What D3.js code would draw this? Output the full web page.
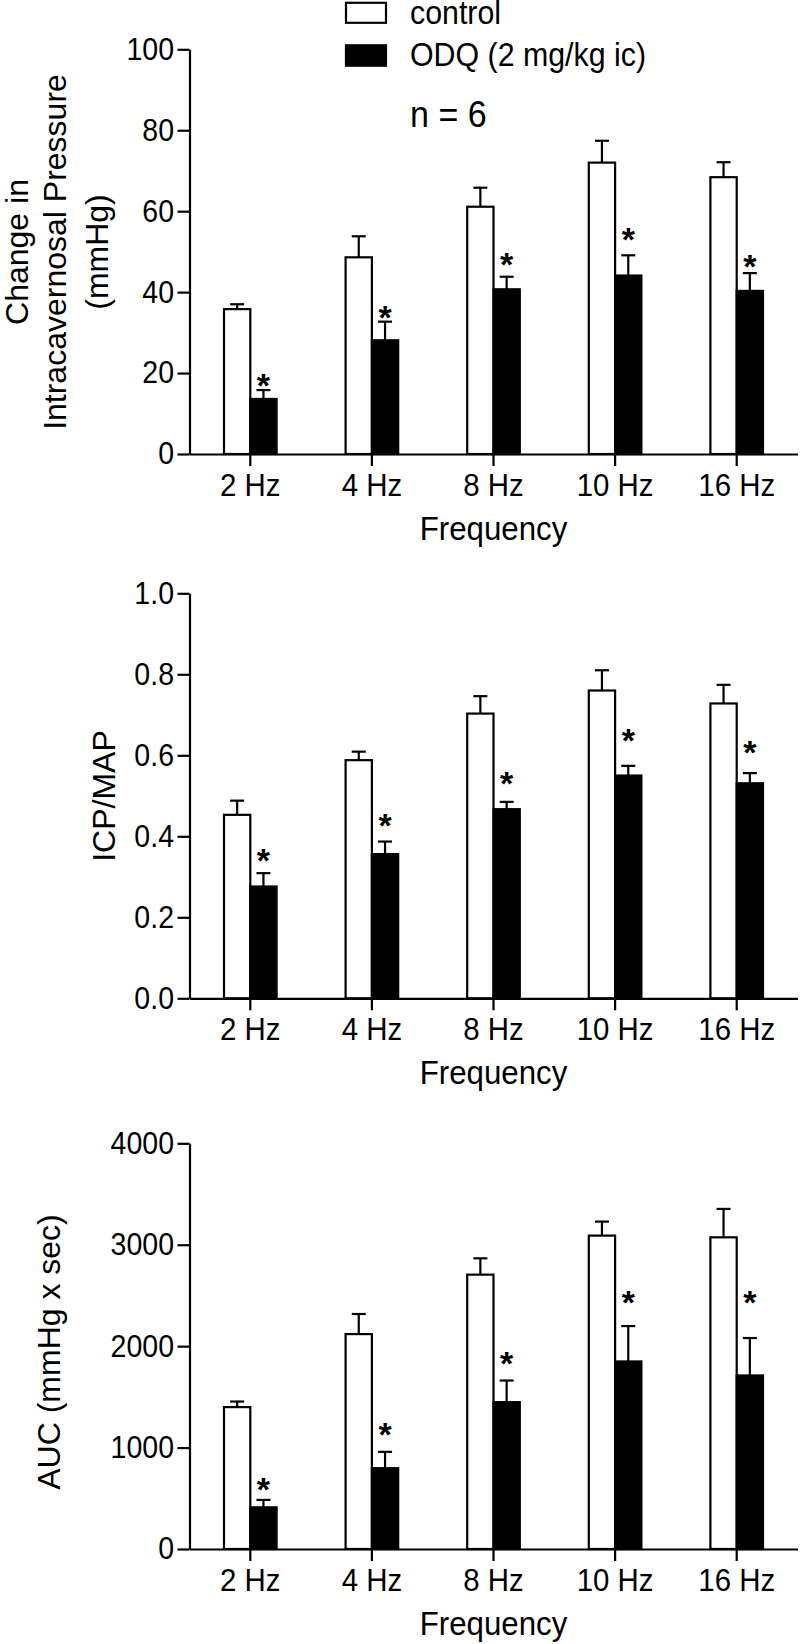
<!DOCTYPE html>
<html>
<head>
<meta charset="utf-8">
<script src="https://cdn.jsdelivr.net/npm/d3@7/dist/d3.min.js"></script>
<style>
  html, body { margin: 0; padding: 0; background: #fff; }
  svg { display: block; }
  text { font-family: Arial, "Liberation Sans", Helvetica, sans-serif; fill: #000; }
</style>
</head>
<body>
<svg id="chart" width="800" height="1644"></svg>
<script>
// ---------- data ----------
const categories = ["2 Hz", "4 Hz", "8 Hz", "10 Hz", "16 Hz"];
const seriesNames = ["control", "ODQ (2 mg/kg ic)"];
const sampleNote = "n = 6";

// Panel 1: change in intracavernosal pressure (mmHg)
const icpControl    = [35.8, 48.6, 61.1, 72.0, 68.4];
const icpControlSem = [1.2, 5.2, 4.7, 5.4, 3.7];
const icpOdq        = [13.6, 28.1, 40.7, 44.1, 40.3];
const icpOdqSem     = [2.2, 4.6, 3.1, 5.0, 4.4];
const icpStars      = [18.8, 35.6, 48.7, 54.9, 48.3];
const icpTicks      = [0, 20, 40, 60, 80, 100];

// Panel 2: ICP/MAP
const ratioControl    = [0.453, 0.588, 0.703, 0.760, 0.728];
const ratioControlSem = [0.035, 0.021, 0.043, 0.050, 0.046];
const ratioOdq        = [0.276, 0.356, 0.467, 0.550, 0.531];
const ratioOdqSem     = [0.033, 0.031, 0.018, 0.024, 0.025];
const ratioStars      = [0.3595, 0.445, 0.55, 0.655, 0.625];
const ratioTicks      = [0, 0.2, 0.4, 0.6, 0.8, 1.0];

// Panel 3: AUC (mmHg x sec)
const aucControl    = [1399, 2119, 2705, 3090, 3073];
const aucControlSem = [55, 198, 161, 138, 280];
const aucOdq        = [411, 797, 1448, 1849, 1711];
const aucOdqSem     = [73, 161, 213, 349, 369];
const aucStars      = [664, 1207, 1905, 2507, 2507];
const aucTicks      = [0, 1000, 2000, 3000, 4000];

// ---------- layout ----------
const FONT = 'Arial, "Liberation Sans", Helvetica, sans-serif';
const SX = 0.92; // horizontal squeeze of the original lettering
const svg = d3.select("#chart");
const xLeft = 189.5, xRight = 797.5;
const barW = 26.3;

const panels = [
  { control: icpControl, controlSem: icpControlSem, odq: icpOdq, odqSem: icpOdqSem, stars: icpStars,
    ticks: icpTicks, fmt: d3.format("d"), domain: [0, 100], y0: 454, y1: 49.3,
    title: ["Change in", "Intracavernosal Pressure", "(mmHg)"], titleX: [28, 66, 108], titleY: 252 },
  { control: ratioControl, controlSem: ratioControlSem, odq: ratioOdq, odqSem: ratioOdqSem, stars: ratioStars,
    ticks: ratioTicks, fmt: d3.format(".1f"), domain: [0, 1], y0: 998.3, y1: 593.3,
    title: ["ICP/MAP"], titleX: [115], titleY: 796 },
  { control: aucControl, controlSem: aucControlSem, odq: aucOdq, odqSem: aucOdqSem, stars: aucStars,
    ticks: aucTicks, fmt: d3.format("d"), domain: [0, 4000], y0: 1549, y1: 1143.3,
    title: ["AUC (mmHg x sec)"], titleX: [60], titleY: 1352 }
];

const x = d3.scaleBand().domain(categories).range([xLeft, xRight]).padding(0);
const cx = c => x(c) + x.bandwidth() / 2;

function squeeze(sel) {
  sel.each(function () {
    const t = d3.select(this);
    const tx = +t.attr("x") || 0;
    t.attr("x", 0).attr("transform", `translate(${tx},0) scale(${SX},1)`);
  });
}

panels.forEach(p => {
  const y = d3.scaleLinear().domain(p.domain).range([p.y0, p.y1]);
  const g = svg.append("g");

  const rows = categories.map((c, i) => ({
    c, ctl: p.control[i], ctlSem: p.controlSem[i], odq: p.odq[i], odqSem: p.odqSem[i], star: p.stars[i]
  }));

  // error bars (upward only)
  const cap = 7;
  rows.forEach(r => {
    const xc = cx(r.c) - barW / 2, xo = cx(r.c) + barW / 2;
    [[xc, r.ctl, r.ctlSem], [xo, r.odq, r.odqSem]].forEach(([xx, v, s]) => {
      g.append("line").attr("x1", xx).attr("x2", xx).attr("y1", y(v)).attr("y2", y(v + s))
        .attr("stroke", "#000").attr("stroke-width", 2.2);
      g.append("line").attr("x1", xx - cap).attr("x2", xx + cap).attr("y1", y(v + s)).attr("y2", y(v + s))
        .attr("stroke", "#000").attr("stroke-width", 2.2);
    });
  });

  // bars
  g.selectAll("rect.ctl").data(rows).join("rect").attr("class", "ctl")
    .attr("x", d => cx(d.c) - barW).attr("width", barW)
    .attr("y", d => y(d.ctl)).attr("height", d => y(0) - y(d.ctl))
    .attr("fill", "#fff").attr("stroke", "#000").attr("stroke-width", 2.2);
  g.selectAll("rect.odq").data(rows).join("rect").attr("class", "odq")
    .attr("x", d => cx(d.c)).attr("width", barW)
    .attr("y", d => y(d.odq)).attr("height", d => y(0) - y(d.odq))
    .attr("fill", "#000").attr("stroke", "#000").attr("stroke-width", 2.2);

  // significance stars
  g.selectAll("text.star").data(rows).join("text").attr("class", "star")
    .attr("x", d => cx(d.c) + barW / 2).attr("y", d => y(d.star) + 19)
    .attr("text-anchor", "middle").style("font-size", "34px").style("font-weight", "bold")
    .text("*");

  // y axis
  const ya = g.append("g").attr("transform", `translate(${xLeft},0)`)
    .call(d3.axisLeft(y).tickValues(p.ticks).tickFormat(p.fmt).tickSizeInner(12).tickSizeOuter(0).tickPadding(3.5));
  ya.selectAll("path, line").attr("stroke", "#000").attr("stroke-width", 2.2);
  ya.selectAll("text").style("font-family", FONT).style("font-size", "31px").attr("fill", "#000").call(squeeze);

  // x axis
  const xa = g.append("g").attr("transform", `translate(0,${p.y0})`)
    .call(d3.axisBottom(x).tickSizeInner(12).tickSizeOuter(0).tickPadding(7));
  xa.selectAll("path, line").attr("stroke", "#000").attr("stroke-width", 2.2);
  xa.selectAll("text").style("font-family", FONT).style("font-size", "32px").attr("fill", "#000").call(squeeze);

  // x title
  g.append("text").attr("transform", `translate(${(xLeft + xRight) / 2},${p.y0 + 86}) scale(${SX},1)`)
    .attr("text-anchor", "middle").style("font-size", "34px").text("Frequency");

  // y title
  p.title.forEach((t, i) => {
    g.append("text").attr("transform", `translate(${p.titleX[i]},${p.titleY}) rotate(-90)`)
      .attr("text-anchor", "middle").style("font-size", "32px").text(t);
  });
});

// legend
const legend = svg.append("g");
legend.append("rect").attr("x", 346).attr("y", 2.8).attr("width", 40).attr("height", 20)
  .attr("fill", "#fff").attr("stroke", "#000").attr("stroke-width", 2.2);
legend.append("rect").attr("x", 346).attr("y", 45.3).attr("width", 40).attr("height", 20.4)
  .attr("fill", "#000").attr("stroke", "#000").attr("stroke-width", 2.2);
legend.append("text").attr("transform", `translate(410,24) scale(${SX},1)`).style("font-size", "33px").text(seriesNames[0]);
legend.append("text").attr("transform", `translate(410,66) scale(${SX},1)`).style("font-size", "33px").text(seriesNames[1]);
legend.append("text").attr("transform", `translate(410,126.5) scale(${SX},1)`).style("font-size", "37px").text(sampleNote);
</script>
</body>
</html>
